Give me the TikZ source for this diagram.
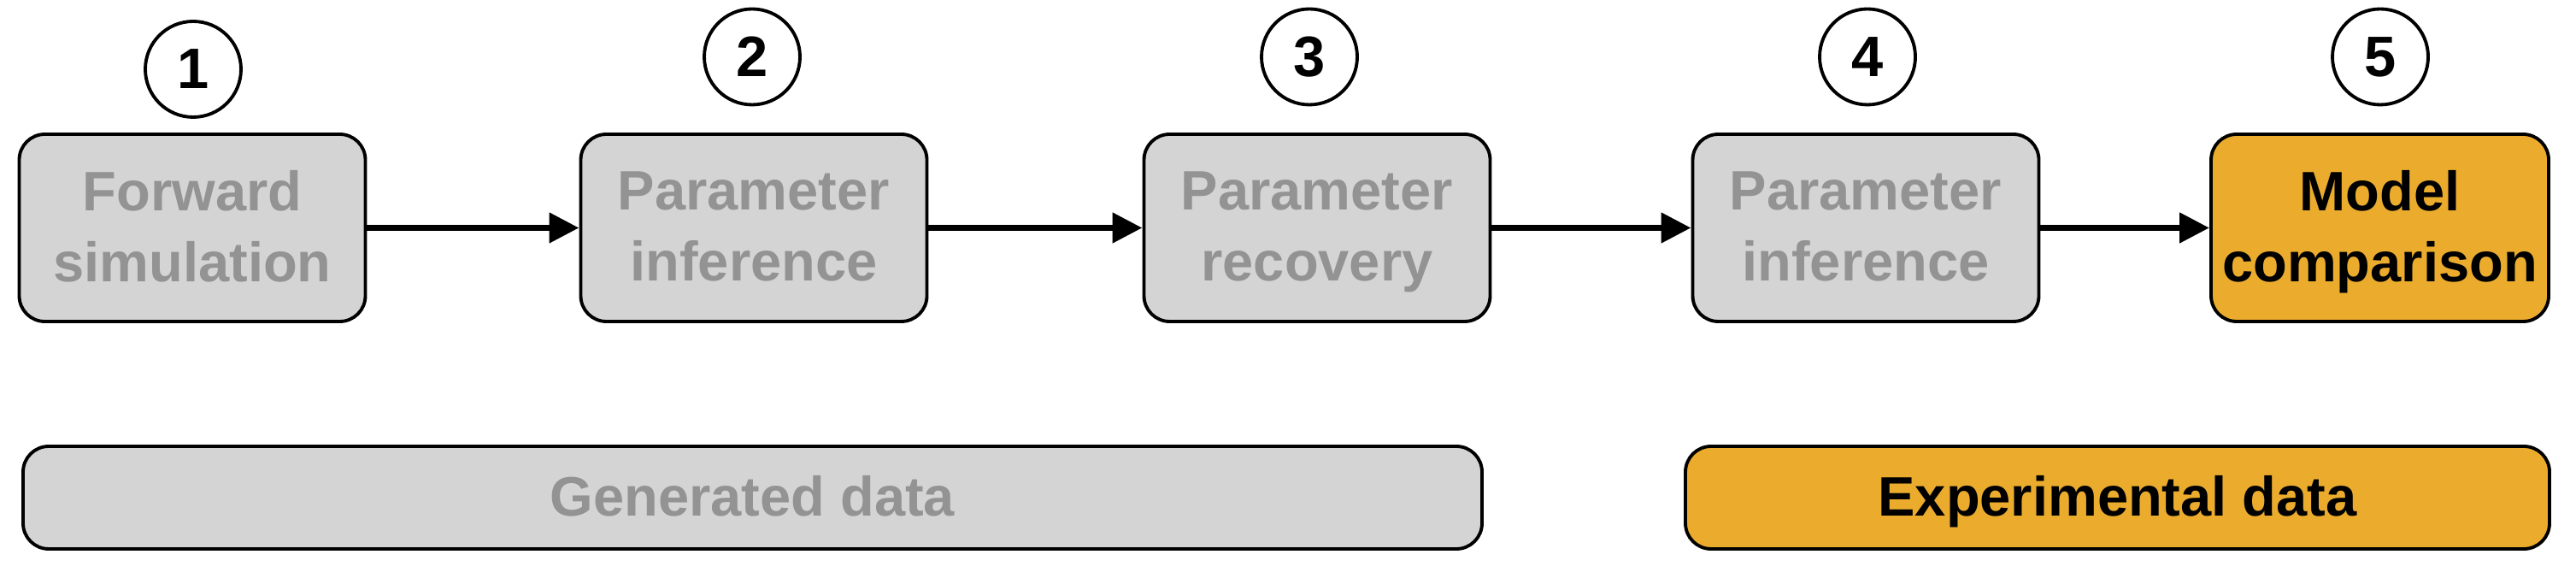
\documentclass[tikz,border=0pt]{standalone}
\usepackage{fontspec}
\setmainfont{Liberation Sans}
\usepackage{xcolor}
\usetikzlibrary{arrows.meta, positioning}

\definecolor{grisfondo}{HTML}{D4D4D4}
\definecolor{gristexto}{HTML}{939393}
\definecolor{naranja}{HTML}{EBAC2E}

\tikzset{
    caja/.style={draw=black, line width=1.1pt, rounded corners=0.3cm, fill=grisfondo,
        text=gristexto, align=center, minimum width=4.05cm, minimum height=2.19cm,
        inner sep=0pt, text depth=0.1em, font=\fontsize{18.5}{23.6}\selectfont\bfseries},
    cajafinal/.style={caja, fill=naranja, text=black, minimum width=3.95cm},
    barra/.style={caja, minimum height=1.2cm},
    paso/.style={circle, draw=black, line width=1.1pt, minimum size=1.12cm, inner sep=0pt,
        font=\fontsize{19}{22}\selectfont\bfseries},
    flecha/.style={line width=2.2pt, -{Triangle[length=0.35cm, width=0.34cm]}}
}

\begin{document}
\begin{tikzpicture}
    \useasboundingbox (0,0) rectangle (30.14,6.76);
    % Cajas de las etapas
    \node[caja] (sim) at (2.25,4.095) {Forward\\simulation};
    \node[caja] (infsim) at (8.82,4.095) {Parameter\\inference};
    \node[caja] (rec) at (15.41,4.095) {Parameter\\recovery};
    \node[caja] (infexp) at (21.83,4.095) {Parameter\\inference};
    \node[cajafinal] (comp) at (27.845,4.095) {Model\\comparison};
    % Numeros de las etapas
    \foreach \n/\x/\y in {1/2.26/5.95, 2/8.80/6.095, 3/15.32/6.095, 4/21.85/6.095, 5/27.85/6.095} {
        \node[paso] (paso\n) at (\x,\y) {\n};
    }
    % Flechas entre etapas
    \draw[flecha] (sim) -- (infsim);
    \draw[flecha] (infsim) -- (rec);
    \draw[flecha] (rec) -- (infexp);
    \draw[flecha] (infexp) -- (comp);
    % Barras de los datos
    \node[barra, minimum width=17.07cm] (gen) at (8.805,0.94) {Generated data};
    \node[barra, fill=naranja, text=black, minimum width=10.11cm] (exp) at (24.775,0.94) {Experimental data};
\end{tikzpicture}
\end{document}
